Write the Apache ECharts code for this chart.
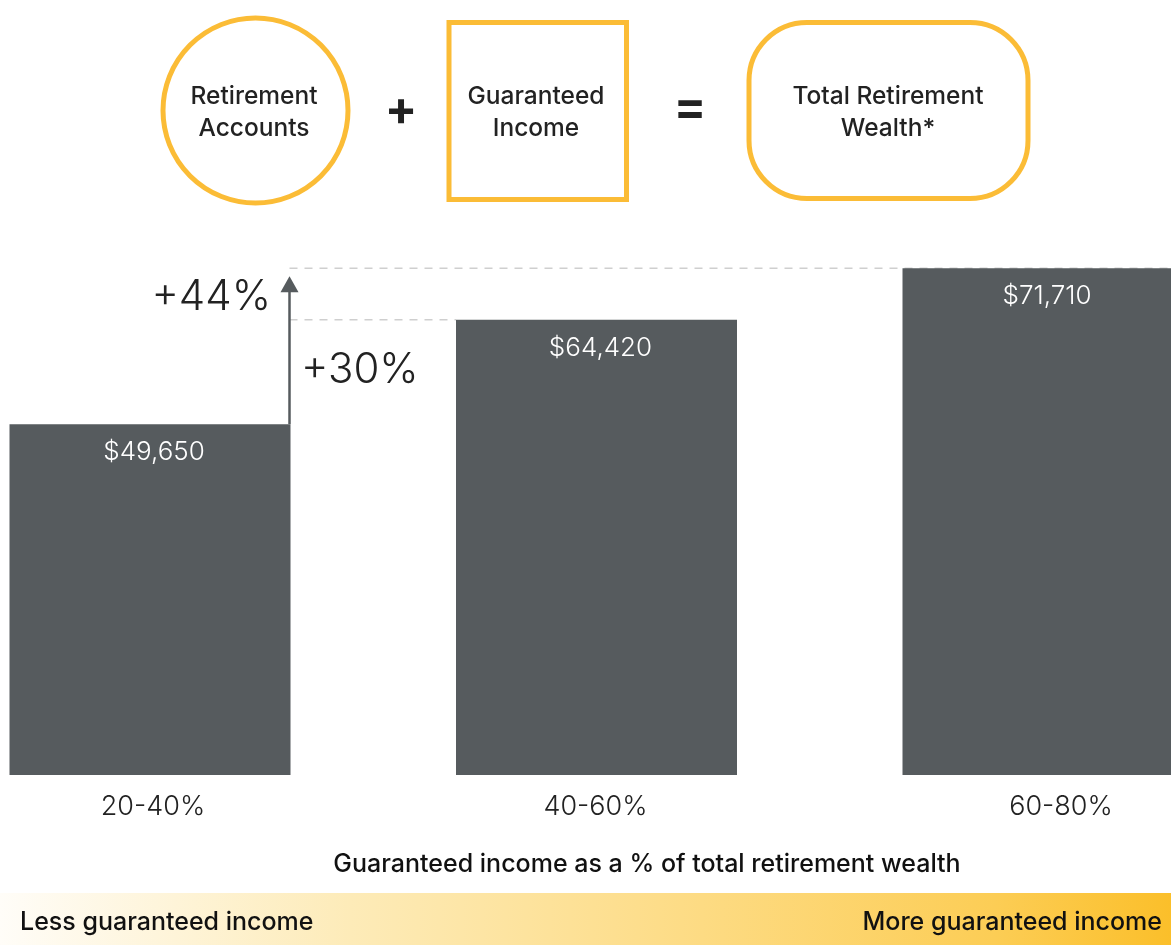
<!DOCTYPE html>
<html>
<head>
<meta charset="utf-8">
<script src="https://cdn.jsdelivr.net/npm/echarts@6/dist/echarts.min.js"></script>
<style>
html,body{margin:0;padding:0;background:#fff;}
#chart{width:1171px;height:945px;}
</style>
</head>
<body>
<div id="chart"></div>
<script>
// ---- data ----
const categories = ['20-40%', '40-60%', '60-80%'];
const wealthValues = [49650, 64420, 71710];
const axisTitle = 'Guaranteed income as a % of total retirement wealth';
const leftScaleLabel = 'Less guaranteed income';
const rightScaleLabel = 'More guaranteed income';
const diagramLabels = ['Retirement\nAccounts', 'Guaranteed\nIncome', 'Total Retirement\nWealth*'];

const FONT = 'Inter, "Noto Sans", sans-serif';
const BAR = '#565B5E';
const YEL = '#FBBC36';
const BAR_W = 281;

const chart = echarts.init(document.getElementById('chart'), null, {renderer: 'canvas'});

const fmt = v => '$' + v.toLocaleString('en-US');

chart.setOption({
  animation: false,
  backgroundColor: '#fff',
  grid: {left: 150, right: 128, top: 245, bottom: 170, containLabel: false},
  xAxis: {
    type: 'category',
    data: categories,
    boundaryGap: false,
    axisLine: {show: false},
    axisTick: {show: false},
    splitLine: {show: false},
    axisLabel: {
      margin: 18,
      fontFamily: FONT,
      fontSize: 27,
      fontWeight: 300,
      color: '#222',
      formatter: (v, i) => i === 2 ? '{r|' + v + '}' : (i === 1 ? '{m|' + v + '}' : '{n|' + v + '}'),
      rich: {
        n: {fontFamily: FONT, fontSize: 27, fontWeight: 300, color: '#222', padding: [0, 0, 0, 6]},
        m: {fontFamily: FONT, fontSize: 27, fontWeight: 300, color: '#222', padding: [0, 2, 0, 0]},
        r: {fontFamily: FONT, fontSize: 27, fontWeight: 300, color: '#222', padding: [0, 0, 0, 36]}
      }
    }
  },
  yAxis: {type: 'value', min: 0, max: 75000, show: false, splitLine: {show: false}},
  series: [{
    type: 'bar',
    data: wealthValues,
    barWidth: BAR_W,
    clip: false,
    itemStyle: {color: BAR},
    label: {
      show: true,
      position: 'insideTop',
      distance: 15,
      offset: [4, 0],
      fontFamily: FONT,
      fontSize: 26,
      fontWeight: 300,
      color: '#fff',
      formatter: p => fmt(p.value)
    }
  }]
});

function px(i, v) { return chart.convertToPixel({gridIndex: 0}, [i, v]); }

const p0 = px(0, wealthValues[0]);
const p1 = px(1, wealthValues[1]);
const p2 = px(2, wealthValues[2]);
const xArrow = p0[0] + BAR_W / 2 - 1;
const bar2Left = p1[0] - BAR_W / 2;
const pct1 = Math.round((wealthValues[1] / wealthValues[0] - 1) * 100);
const pct2 = Math.round((wealthValues[2] / wealthValues[0] - 1) * 100);

const textStyleBase = {fontFamily: FONT, fill: '#222'};
const diagText = (x, t) => ({
  type: 'text', x: x, y: 113,
  style: Object.assign({}, textStyleBase, {text: t, fontSize: 24.5, fontWeight: 500, lineHeight: 32, align: 'center', verticalAlign: 'middle'})
});

chart.setOption({
  graphic: [
    // top diagram
    {type: 'circle', shape: {cx: 255.5, cy: 110.5, r: 92.5}, style: {fill: '#fff', stroke: YEL, lineWidth: 5}},
    {type: 'rect', shape: {x: 449, y: 22.5, width: 177.5, height: 177}, style: {fill: '#fff', stroke: YEL, lineWidth: 5}},
    {type: 'rect', shape: {x: 749, y: 22.5, width: 279, height: 176, r: 58}, style: {fill: '#fff', stroke: YEL, lineWidth: 5}},
    diagText(254, diagramLabels[0]),
    diagText(536, diagramLabels[1]),
    diagText(888, diagramLabels[2]),
    {type: 'text', x: 401, y: 111, style: Object.assign({}, textStyleBase, {text: '+', fontSize: 48, fontWeight: 700, align: 'center', verticalAlign: 'middle'})},
    {type: 'text', x: 690, y: 109, style: Object.assign({}, textStyleBase, {text: '=', fontSize: 48, fontWeight: 700, align: 'center', verticalAlign: 'middle'})},

    // dashed reference lines
    {type: 'line', shape: {x1: xArrow, y1: p2[1], x2: 1171, y2: p2[1]}, style: {stroke: '#CFCFCF', lineWidth: 1.5, lineDash: [8, 7]}, z: 0},
    {type: 'line', shape: {x1: xArrow, y1: p1[1], x2: bar2Left, y2: p1[1]}, style: {stroke: '#CFCFCF', lineWidth: 1.5, lineDash: [8, 7]}, z: 0},
    // arrow
    {type: 'line', shape: {x1: xArrow, y1: p0[1], x2: xArrow, y2: p2[1] + 20}, style: {stroke: BAR, lineWidth: 2.5}},
    {type: 'polygon', shape: {points: [[xArrow - 9, p2[1] + 24], [xArrow + 9, p2[1] + 24], [xArrow, p2[1] + 8]]}, style: {fill: BAR}},
    // percent labels
    {type: 'text', x: 271, y: p2[1] + 29, style: Object.assign({}, textStyleBase, {text: '+' + pct2 + '%', fontSize: 42, fontWeight: 300, align: 'right', verticalAlign: 'middle'})},
    {type: 'text', x: 301, y: p1[1] + 51, style: Object.assign({}, textStyleBase, {text: '+' + pct1 + '%', fontSize: 42, fontWeight: 300, align: 'left', verticalAlign: 'middle'})},

    // axis title
    {type: 'text', x: 647, y: 864, style: Object.assign({}, textStyleBase, {text: axisTitle, fontSize: 25, fontWeight: 500, align: 'center', verticalAlign: 'middle', fill: '#111'})},
    // gradient scale band
    {type: 'rect', shape: {x: 0, y: 893, width: 1171, height: 52}, style: {
      fill: new echarts.graphic.LinearGradient(0, 0, 1, 0, [
        {offset: 0, color: '#FFFDF8'},
        {offset: 0.3, color: '#FDEBB8'},
        {offset: 0.6, color: '#FDDB83'},
        {offset: 0.85, color: '#FCCD55'},
        {offset: 1, color: '#FBBF2A'}
      ])
    }},
    {type: 'text', x: 20, y: 922, style: Object.assign({}, textStyleBase, {text: leftScaleLabel, fontSize: 25, fontWeight: 500, align: 'left', verticalAlign: 'middle', fill: '#111'})},
    {type: 'text', x: 1162, y: 922, style: Object.assign({}, textStyleBase, {text: rightScaleLabel, fontSize: 25, fontWeight: 500, align: 'right', verticalAlign: 'middle', fill: '#111'})}
  ]
});
</script>
</body>
</html>
